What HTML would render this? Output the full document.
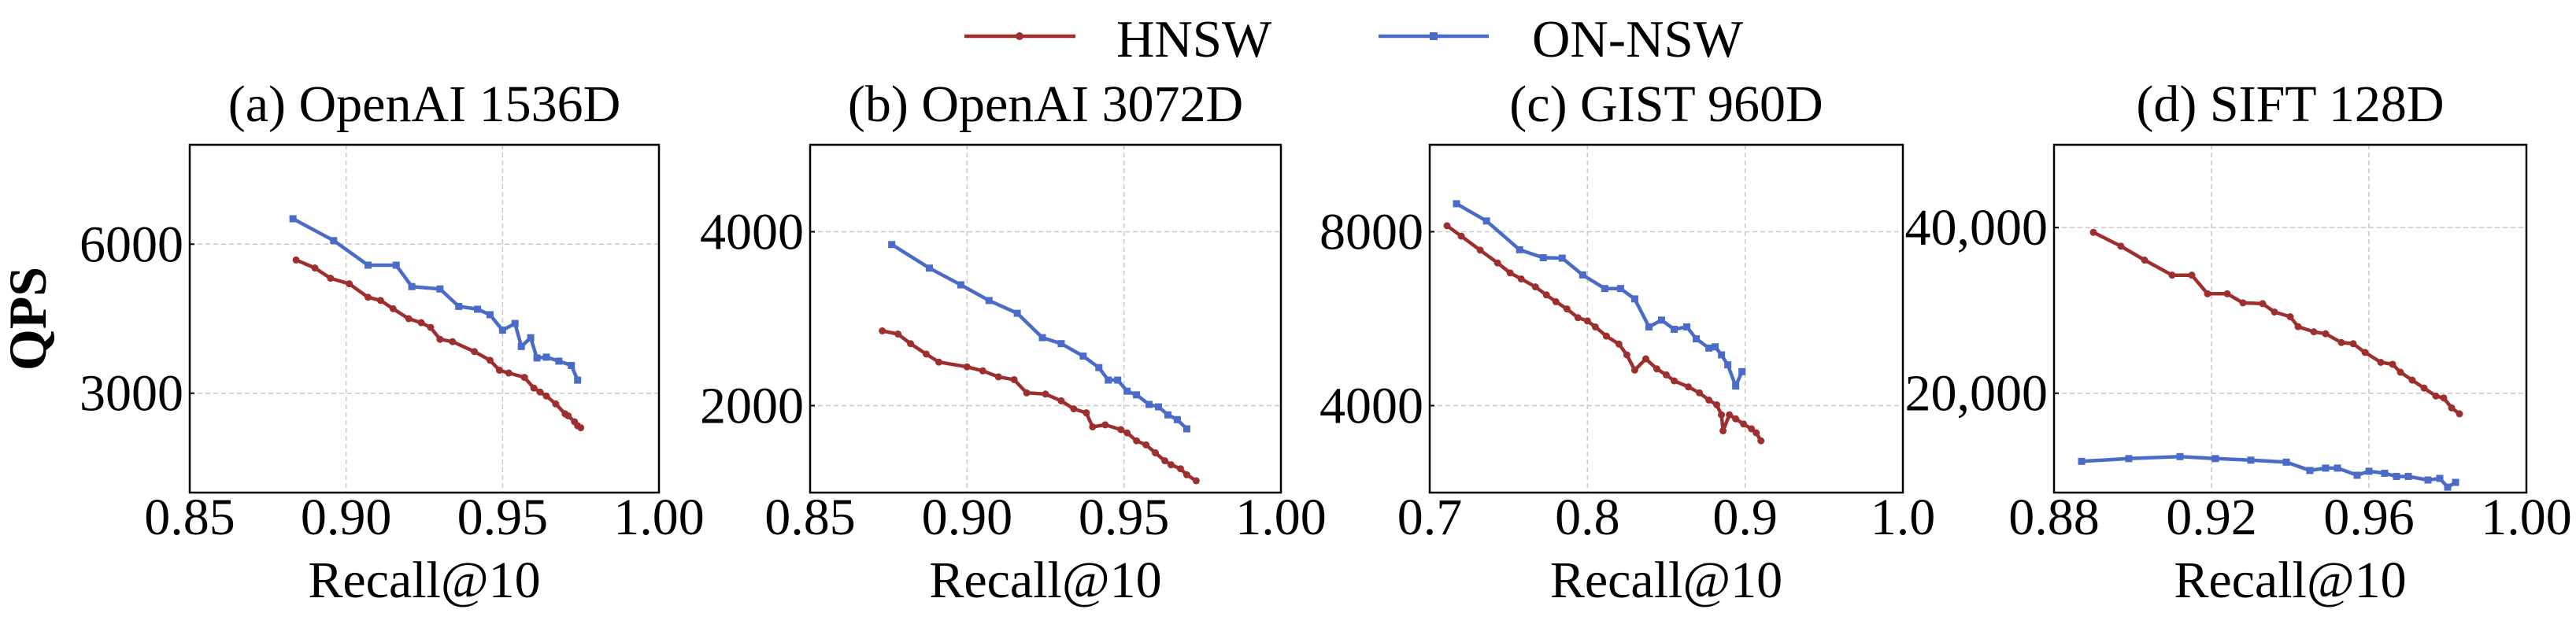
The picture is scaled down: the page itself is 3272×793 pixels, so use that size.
<!DOCTYPE html>
<html><head><meta charset="utf-8"><style>
html,body{margin:0;padding:0;background:#fff;}
svg{display:block;font-family:"Liberation Serif","Times New Roman",serif;}
</style></head><body>
<svg id="chart" width="3272" height="793" viewBox="0 0 3272 793" xmlns="http://www.w3.org/2000/svg">
<g>
 <g>
  <line x1="1225" y1="46" x2="1366" y2="46" stroke="#9e2f2f" stroke-width="4.5"/>
  <circle cx="1295" cy="46" r="5" fill="#9e2f2f"/>
  <text x="1418" y="72" font-size="67">HNSW</text>
 </g>
 <g>
  <line x1="1751" y1="46" x2="1891" y2="46" stroke="#4a6bc8" stroke-width="4.5"/>
  <rect x="1816" y="41" width="10" height="10" fill="#4a6bc8"/>
  <text x="1946" y="72" font-size="67">ON-NSW</text>
 </g>
</g>
<text transform="translate(58,405) rotate(-90)" text-anchor="middle" font-size="68" font-weight="bold">QPS</text>
</svg>
<script>
// Panel (a) OpenAI 1536D
const aHnswX=[0.884,0.890,0.895,0.901,0.907,0.911,0.915,0.920,0.924,0.927,0.930,0.934,0.941,0.946,0.949,0.952,0.957,0.960,0.962,0.964,0.967,0.970,0.971,0.973,0.974,0.975];
const aHnswY=[5681,5521,5314,5202,4931,4867,4700,4500,4420,4324,4085,4037,3838,3662,3463,3407,3319,3104,3024,2944,2785,2585,2545,2426,2346,2306];
const aOnX=[0.883,0.896,0.907,0.916,0.921,0.930,0.936,0.942,0.946,0.950,0.954,0.956,0.959,0.961,0.964,0.968,0.972,0.974];
const aOnY=[6511,6072,5577,5577,5146,5098,4747,4691,4580,4269,4404,3941,4117,3710,3726,3646,3559,3263];
const aXTicks=[0.85,0.90,0.95,1.00];
const aXTickLabels=["0.85","0.90","0.95","1.00"];
const aYTicks=[3000,6000];
const aYTickLabels=["3000","6000"];
// Panel (b) OpenAI 3072D
const bHnswX=[0.873,0.878,0.882,0.887,0.891,0.900,0.905,0.910,0.915,0.919,0.925,0.930,0.934,0.938,0.940,0.944,0.949,0.951,0.954,0.957,0.960,0.963,0.965,0.968,0.970,0.973];
const bHnswY=[2860,2823,2713,2593,2501,2446,2400,2331,2299,2147,2133,2055,1963,1917,1756,1779,1724,1687,1595,1549,1457,1366,1320,1274,1205,1136];
const bOnX=[0.876,0.888,0.898,0.907,0.916,0.924,0.930,0.937,0.942,0.945,0.948,0.951,0.954,0.958,0.961,0.964,0.967,0.970];
const bOnY=[3853,3582,3389,3209,3062,2782,2713,2570,2437,2294,2294,2166,2124,2014,1986,1894,1839,1733];
const bXTicks=[0.85,0.90,0.95,1.00];
const bXTickLabels=["0.85","0.90","0.95","1.00"];
const bYTicks=[2000,4000];
const bYTickLabels=["2000","4000"];
// Panel (c) GIST 960D
const cHnswX=[0.711,0.720,0.732,0.743,0.751,0.758,0.767,0.774,0.780,0.787,0.794,0.800,0.805,0.812,0.820,0.825,0.830,0.837,0.844,0.850,0.855,0.864,0.871,0.877,0.882,0.885,0.886,0.890,0.894,0.899,0.904,0.907,0.910];
const cHnswY=[8138,7899,7577,7283,7053,6915,6731,6547,6391,6225,6023,5949,5811,5600,5416,5168,4818,5076,4846,4708,4570,4432,4294,4129,4018,3789,3421,3789,3697,3577,3467,3375,3191];
const cOnX=[0.717,0.736,0.757,0.772,0.784,0.797,0.811,0.821,0.830,0.839,0.847,0.855,0.863,0.869,0.877,0.881,0.885,0.889,0.894,0.898];
const cOnY=[8644,8248,7586,7402,7393,7007,6694,6694,6455,5811,5968,5756,5811,5536,5324,5352,5168,4938,4451,4782];
const cXTicks=[0.7,0.8,0.9,1.0];
const cXTickLabels=["0.7","0.8","0.9","1.0"];
const cYTicks=[4000,8000];
const cYTickLabels=["4000","8000"];
// Panel (d) SIFT 128D
const dHnswX=[0.890,0.897,0.903,0.910,0.915,0.919,0.924,0.928,0.933,0.936,0.940,0.942,0.946,0.949,0.953,0.956,0.959,0.963,0.966,0.968,0.971,0.974,0.977,0.979,0.981,0.983];
const dHnswY=[39426,37751,36077,34258,34258,32010,32010,30909,30813,29809,29234,28038,27416,27177,26124,25981,24928,23732,23493,22536,21579,20622,19665,19426,18230,17512];
const dOnX=[0.887,0.899,0.912,0.921,0.930,0.939,0.945,0.949,0.952,0.957,0.960,0.964,0.967,0.970,0.975,0.978,0.980,0.982];
const dOnY=[11770,12105,12344,12105,11914,11675,10670,10957,10957,10096,10574,10335,9952,9952,9522,9713,8660,9234];
const dXTicks=[0.88,0.92,0.96,1.00];
const dXTickLabels=["0.88","0.92","0.96","1.00"];
const dYTicks=[20000,40000];
const dYTickLabels=["20,000","40,000"];

const RED="#9e2f2f", BLUE="#4a6bc8";
const NS="http://www.w3.org/2000/svg";
const svg=document.getElementById('chart');
function mk(tag,attrs,parent){const e=document.createElementNS(NS,tag);for(const k in attrs)e.setAttribute(k,attrs[k]);parent.appendChild(e);return e;}

const panels=[
 {key:'a',title:'(a) OpenAI 1536D',left:241,right:837,xMin:0.85,xMax:1.0,yMin:1000,yMax:8000,hx:aHnswX,hy:aHnswY,ox:aOnX,oy:aOnY,xt:aXTicks,xl:aXTickLabels,yt:aYTicks,yl:aYTickLabels},
 {key:'b',title:'(b) OpenAI 3072D',left:1029,right:1627,xMin:0.85,xMax:1.0,yMin:1000,yMax:5000,hx:bHnswX,hy:bHnswY,ox:bOnX,oy:bOnY,xt:bXTicks,xl:bXTickLabels,yt:bYTicks,yl:bYTickLabels},
 {key:'c',title:'(c) GIST 960D',left:1816,right:2417,xMin:0.7,xMax:1.0,yMin:2000,yMax:10000,hx:cHnswX,hy:cHnswY,ox:cOnX,oy:cOnY,xt:cXTicks,xl:cXTickLabels,yt:cYTicks,yl:cYTickLabels},
 {key:'d',title:'(d) SIFT 128D',left:2609,right:3209,xMin:0.88,xMax:1.0,yMin:8000,yMax:50000,hx:dHnswX,hy:dHnswY,ox:dOnX,oy:dOnY,xt:dXTicks,xl:dXTickLabels,yt:dYTicks,yl:dYTickLabels}
];
const TOP=184,BOT=626;
panels.forEach(p=>{
 const g=mk('g',{},svg);
 
 
 const xs=v=>p.left+(v-p.xMin)/(p.xMax-p.xMin)*(p.right-p.left);
 const ys=v=>BOT-(v-p.yMin)/(p.yMax-p.yMin)*(BOT-TOP);
 const cx=(p.left+p.right)/2;
 const t=mk('text',{x:cx,y:154,'text-anchor':'middle','font-size':66},g);
 t.textContent=p.title;
 
 
 // grid
 p.xt.forEach((v,i)=>{
  const X=xs(v);
  if(i>0&&i<p.xt.length-1){
   const gl=mk('line',{x1:X,y1:TOP,x2:X,y2:BOT,stroke:'#c8c8c8','stroke-width':1.5,'stroke-dasharray':'6,4'},g);
   
   
  }
  const tl=mk('text',{x:X,y:679,'text-anchor':'middle','font-size':66},g);
  tl.textContent=p.xl[i];
  
  
 });
 p.yt.forEach((v,i)=>{
  const Y=ys(v);
  const gl=mk('line',{x1:p.left,y1:Y,x2:p.right,y2:Y,stroke:'#c8c8c8','stroke-width':1.5,'stroke-dasharray':'6,4'},g);
  
  
  const tk=mk('line',{x1:p.left,y1:Y,x2:p.left+6,y2:Y,stroke:'#000','stroke-width':2},g);
  
  
  const tl=mk('text',{x:p.left-8,y:Y+22,'text-anchor':'end','font-size':66},g);
  tl.textContent=p.yl[i];
  
  
 });
 const xlab=mk('text',{x:cx,y:759,'text-anchor':'middle','font-size':66},g);
 xlab.textContent='Recall@10';
 
 
 // series
 function series(X,Y,color,shape,name){
  const sg=mk('g',{},g);
  
  
  const pts=X.map((v,i)=>xs(v).toFixed(1)+','+ys(Y[i]).toFixed(1)).join(' ');
  const pl=mk('polyline',{points:pts,fill:'none',stroke:color,'stroke-width':4.5,'stroke-linejoin':'round'},sg);
  
  
  X.forEach((v,i)=>{
   let m;
   if(shape==='c') m=mk('circle',{cx:xs(v),cy:ys(Y[i]),r:4.5,fill:color},sg);
   else m=mk('rect',{x:xs(v)-4.5,y:ys(Y[i])-4.5,width:9,height:9,fill:color},sg);
   
   
  });
 }
 series(p.hx,p.hy,RED,'c','hnsw-series-'+p.key);
 series(p.ox,p.oy,BLUE,'s','on-nsw-series-'+p.key);
 const fr=mk('rect',{x:p.left,y:TOP,width:p.right-p.left,height:BOT-TOP,fill:'none',stroke:'#000','stroke-width':2.5},g);
 
 
});
</script>
</body></html>
